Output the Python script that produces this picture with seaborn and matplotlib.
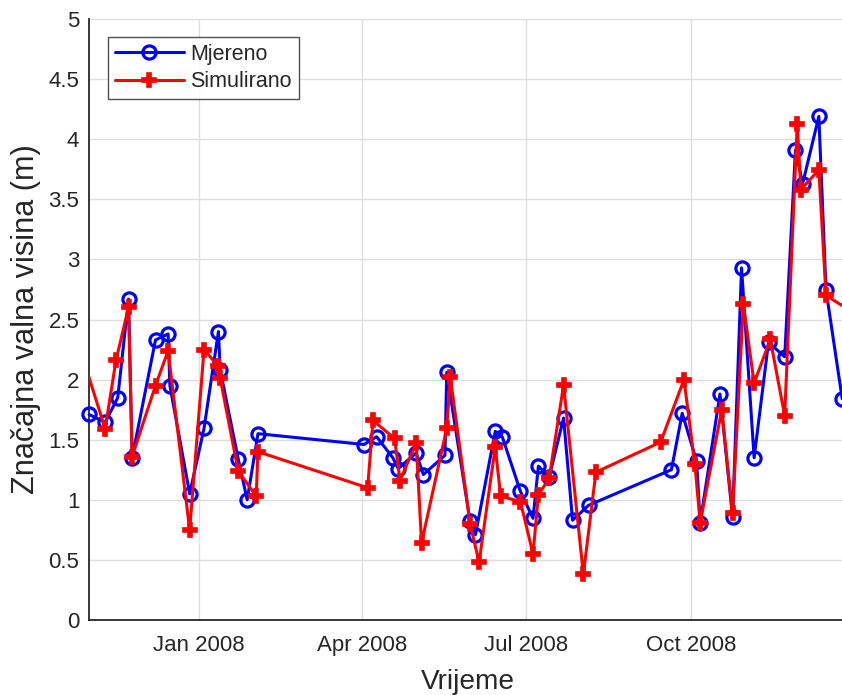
import pandas as pd
import numpy as np
import matplotlib
matplotlib.use("Agg")
import matplotlib.pyplot as plt
import matplotlib.dates as mdates
import seaborn as sns

# measured wave height
mj_dates = ["2007-11-01", "2007-11-10", "2007-11-17", "2007-11-23", "2007-11-25",
            "2007-12-08", "2007-12-15", "2007-12-16", "2007-12-27", "2008-01-04",
            "2008-01-12", "2008-01-13", "2008-01-23", "2008-01-28", "2008-02-03",
            "2008-04-02", "2008-04-09", "2008-04-18", "2008-04-21", "2008-05-01",
            "2008-05-05", "2008-05-17", "2008-05-18", "2008-05-31", "2008-06-03",
            "2008-06-14", "2008-06-18", "2008-06-28", "2008-07-05", "2008-07-08",
            "2008-07-14", "2008-07-22", "2008-07-27", "2008-08-05", "2008-09-20",
            "2008-09-26", "2008-10-04", "2008-10-06", "2008-10-17", "2008-10-24",
            "2008-10-29", "2008-11-05", "2008-11-13", "2008-11-22", "2008-11-28",
            "2008-12-02", "2008-12-11", "2008-12-15", "2008-12-24"]
mj_vals = [1.71, 1.645, 1.85, 2.67, 1.35,
           2.33, 2.38, 1.95, 1.05, 1.595,
           2.40, 2.08, 1.34, 1.00, 1.55,
           1.46, 1.525, 1.35, 1.26, 1.39,
           1.21, 1.37, 2.06, 0.82, 0.71,
           1.57, 1.52, 1.07, 0.846, 1.28,
           1.19, 1.68, 0.83, 0.955, 1.25,
           1.72, 1.32, 0.81, 1.88, 0.855,
           2.93, 1.35, 2.31, 2.19, 3.91,
           3.63, 4.19, 2.745, 1.84]

# simulated wave height
sim_dates = ["2007-10-24", "2007-11-10", "2007-11-16", "2007-11-23", "2007-11-25",
             "2007-12-08", "2007-12-15", "2007-12-27", "2008-01-04", "2008-01-12",
             "2008-01-13", "2008-01-23", "2008-02-02", "2008-02-03", "2008-04-04",
             "2008-04-07", "2008-04-19", "2008-04-22", "2008-05-01", "2008-05-04",
             "2008-05-18", "2008-05-20", "2008-05-31", "2008-06-05", "2008-06-14",
             "2008-06-17", "2008-06-28", "2008-07-05", "2008-07-08", "2008-07-14",
             "2008-07-22", "2008-08-02", "2008-08-09", "2008-09-14", "2008-09-27",
             "2008-10-03", "2008-10-06", "2008-10-18", "2008-10-24", "2008-10-30",
             "2008-11-05", "2008-11-14", "2008-11-22", "2008-11-29", "2008-12-01",
             "2008-12-11", "2008-12-15", "2008-12-31"]
sim_vals = [2.40, 1.59, 2.16, 2.60, 1.36,
            1.95, 2.24, 0.75, 2.25, 2.11,
            2.01, 1.24, 1.03, 1.40, 1.10,
            1.66, 1.51, 1.16, 1.475, 0.64,
            1.595, 2.02, 0.80, 0.48, 1.44,
            1.03, 0.985, 0.55, 1.04, 1.18,
            1.955, 0.38, 1.23, 1.48, 2.00,
            1.30, 0.81, 1.75, 0.89, 2.63,
            1.97, 2.335, 1.70, 4.13, 3.58,
            3.745, 2.70, 2.55]

y_ticks = [0, 0.5, 1, 1.5, 2, 2.5, 3, 3.5, 4, 4.5, 5]

mj = pd.DataFrame({"Vrijeme": pd.to_datetime(mj_dates), "Hs": mj_vals})
sim = pd.DataFrame({"Vrijeme": pd.to_datetime(sim_dates), "Hs": sim_vals})

sns.set_style("white")
plt.rcParams["font.family"] = ["Liberation Sans", "DejaVu Sans"]
txt = "#262626"

fig = plt.figure(figsize=(8.42, 6.95), dpi=100)
# axes run a little past the right edge of the figure (cropped like the original)
ax = fig.add_axes([89 / 842, 75 / 695, (847 - 89) / 842, 601 / 695])

sns.lineplot(data=mj, x="Vrijeme", y="Hs", ax=ax, estimator=None, sort=False,
             color="#0000ff", linewidth=2.2, marker="o", markersize=9.5,
             markerfacecolor="none", markeredgecolor="#0000ff",
             markeredgewidth=2.3, label="Mjereno", clip_on=False, zorder=3)
sns.lineplot(data=sim, x="Vrijeme", y="Hs", ax=ax, estimator=None, sort=False,
             color="#ff0000", linewidth=2.2, marker="P", markersize=9.5,
             markerfacecolor="#ff0000", markeredgecolor="#ff0000",
             markeredgewidth=1.2, label="Simulirano", zorder=4)

ax.set_xlim(pd.Timestamp("2007-11-01"), pd.Timestamp("2008-12-26 16:00"))
ax.set_ylim(0, 5)
ax.set_yticks(y_ticks)
ax.set_yticklabels([f"{v:g}" for v in y_ticks])
ax.xaxis.set_major_locator(mdates.MonthLocator(bymonth=[1, 4, 7, 10]))
ax.xaxis.set_major_formatter(mdates.DateFormatter("%b %Y"))

ax.grid(True, color="#dedede", linewidth=1)
ax.set_axisbelow(True)
for s in ["top", "right"]:
    ax.spines[s].set_visible(False)
for s in ["left", "bottom"]:
    ax.spines[s].set_color(txt)
    ax.spines[s].set_linewidth(1.3)
ax.tick_params(direction="in", length=6, width=1.2, color=txt,
               labelsize=16, labelcolor=txt)
ax.tick_params(axis="x", pad=11)
ax.tick_params(axis="y", pad=7)

ax.set_xlabel("Vrijeme", fontsize=20.2, color=txt, labelpad=9)
ax.set_ylabel("Značajna valna visina (m)", fontsize=22.1, color=txt, labelpad=5)

leg = ax.legend(loc="upper left", bbox_to_anchor=(108 / 842, 1 - 37 / 695),
                bbox_transform=fig.transFigure, borderaxespad=0,
                fontsize=15.5, frameon=True, fancybox=False, edgecolor="#262626",
                handlelength=3.2, handletextpad=0.3, labelspacing=0.3,
                borderpad=0.32)
leg.get_frame().set_linewidth(1.0)

fig.savefig("out.png", dpi=100)
